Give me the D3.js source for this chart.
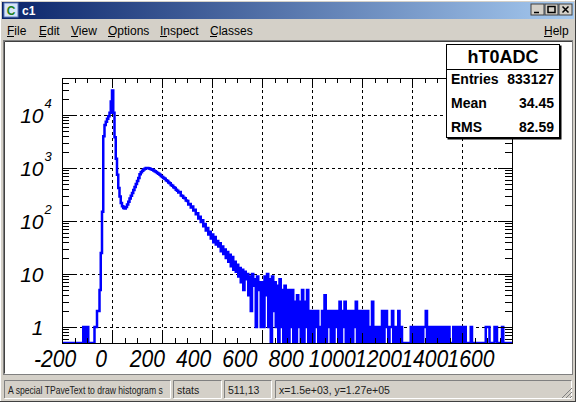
<!DOCTYPE html>
<html>
<head>
<meta charset="utf-8">
<script src="https://cdn.jsdelivr.net/npm/d3@7"></script>
<style>
  html, body { margin: 0; padding: 0; background: #d4d0c8; }
  svg { display: block; }
</style>
</head>
<body>
<div id="chart"></div>
<script>
const width = 576;
const height = 402;

// histogram hT0ADC, bins of 5 starting at -200 (one row = 100 units)
const binStart = -200;
const binWidth = 5;
const counts = [
  0, 0, 0, 0, 0, 0, 0, 0, 0, 0, 0, 0, 0, 0, 0, 0, 0, 1, 0, 0,
  1, 0, 0, 0, 0, 0, 1, 1, 2, 2, 5, 25, 150, 4000, 6500, 7500, 8500, 9500, 11000, 18000,
  29000, 11000, 3800, 1500, 750, 420, 290, 220, 190, 176, 172, 185, 205, 230, 265, 300, 340, 385, 440, 500,
  570, 650, 760, 830, 890, 940, 975, 1000, 1000, 990, 970, 950, 925, 900, 870, 840, 810, 780, 745, 710,
  680, 650, 625, 590, 570, 535, 515, 480, 465, 432, 418, 390, 372, 346, 352, 305, 298, 276, 268, 244,
  238, 206, 210, 180, 188, 158, 164, 134, 140, 112, 120, 96, 103, 80, 88, 66, 74, 56, 63, 47,
  56, 40, 50, 36, 42, 33, 38, 27, 33, 24, 29, 20, 26, 17, 23, 14, 21, 12, 17, 11,
  15, 9, 13, 7, 12, 5, 11, 8, 10, 4, 9, 2, 10, 6, 8, 1, 9, 5, 7, 1,
  7, 1, 9, 4, 10, 1, 8, 0, 9, 2, 7, 1, 6, 0, 8, 1, 5, 0, 6, 0,
  5, 0, 5, 1, 5, 0, 3, 0, 4, 1, 3, 0, 5, 0, 3, 1, 5, 0, 2, 0,
  2, 0, 2, 1, 2, 0, 1, 0, 2, 0, 4, 0, 2, 1, 2, 0, 2, 0, 2, 1,
  2, 0, 3, 0, 2, 1, 3, 0, 2, 0, 1, 2, 0, 2, 1, 3, 0, 1, 2, 0,
  1, 2, 0, 1, 2, 0, 1, 0, 3, 0, 1, 0, 1, 1, 0, 1, 2, 0, 1, 2,
  1, 0, 1, 1, 2, 0, 1, 0, 1, 2, 0, 1, 0, 0, 0, 0, 0, 0, 0, 1,
  1, 0, 1, 0, 1, 1, 0, 1, 0, 1, 1, 2, 0, 1, 1, 0, 1, 0, 1, 0,
  1, 1, 0, 1, 0, 1, 1, 0, 1, 1, 0, 0, 0, 1, 0, 1, 1, 0, 1, 0,
  1, 0, 1, 0, 0, 0, 0, 1, 0, 0, 0, 0, 0, 0, 0, 0, 0, 0, 0, 1,
  1, 1, 0, 0, 0, 0, 1, 1, 0, 0, 0, 0, 1, 0, 0, 0, 0, 0, 0, 0
];

const xMajorTicks = [-200, 0, 200, 400, 600, 800, 1000, 1200, 1400, 1600];
const xTickLabels = ["-200", "0", "200", "400", "600", "800", "1000", "1200", "1400", "1600"];
const yDecades = [1, 10, 100, 1000, 10000];
const yDecadeBase = ["1", "10", "10", "10", "10"];
const yDecadeExp = ["", "", "2", "3", "4"];

const histName = "hT0ADC";
const statsLabels = ["Entries", "Mean", "RMS"];
const statsValues = ["833127", "34.45", "82.59"];

const menuItems = ["File", "Edit", "View", "Options", "Inspect", "Classes"];
const menuX = [7, 39, 71, 108, 160, 210];
const statusTexts = ["A special TPaveText to draw histogram s", "stats", "511,13", "x=1.5e+03, y=1.27e+05"];
const statusPanels = [[4, 171], [173, 222], [224, 272], [275, 572]];
const statusScale = [0.82, 1, 1, 1];

const rootFont = "'Liberation Sans', Arial, sans-serif";
const guiFont = "'Liberation Sans', Arial, sans-serif";

const svg = d3.select("#chart")
  .append("svg")
  .attr("width", width)
  .attr("height", height);

const defs = svg.append("defs");
const grad = defs.append("linearGradient").attr("id", "titlegrad");
grad.append("stop").attr("offset", "0%").attr("stop-color", "#0a246a");
grad.append("stop").attr("offset", "100%").attr("stop-color", "#a6caf0");

// window background
svg.append("rect").attr("width", width).attr("height", height).attr("fill", "#d4d0c8");
svg.append("line").attr("x1", 0).attr("x2", width).attr("y1", 0.5).attr("y2", 0.5).attr("stroke", "#ffffff");
svg.append("line").attr("x1", 0.5).attr("x2", 0.5).attr("y1", 0).attr("y2", height).attr("stroke", "#ffffff");
svg.append("line").attr("x1", width - 0.5).attr("x2", width - 0.5).attr("y1", 0).attr("y2", height).attr("stroke", "#404040");
svg.append("line").attr("x1", 0).attr("x2", width).attr("y1", height - 0.5).attr("y2", height - 0.5).attr("stroke", "#404040");

// title bar
svg.append("rect").attr("x", 2).attr("y", 2).attr("width", width - 4).attr("height", 17).attr("fill", "url(#titlegrad)");
const icon = svg.append("g").attr("transform", "translate(4,3)");
icon.append("rect").attr("width", 14).attr("height", 14).attr("fill", "#d8e4f8").attr("stroke", "#6080c0");
icon.append("text").attr("x", 7).attr("y", 11.5).attr("text-anchor", "middle")
  .attr("font-family", guiFont).attr("font-weight", "bold").attr("font-size", 12)
  .attr("fill", "#208020").text("C");
svg.append("text").attr("x", 22).attr("y", 15).attr("font-family", guiFont)
  .attr("font-weight", "bold").attr("font-size", 12).attr("fill", "#ffffff").text("c1");

const btnX = [531, 545, 559];
const btns = svg.selectAll("g.btn").data(btnX).enter().append("g")
  .attr("class", "btn").attr("transform", d => `translate(${d},4)`);
btns.append("rect").attr("width", 13).attr("height", 11).attr("fill", "#d4d0c8")
  .attr("stroke", "#404040").attr("stroke-width", 1);
btns.append("path").attr("fill", "none").attr("stroke", "#000").attr("stroke-width", 1.5)
  .attr("d", (d, i) => i === 0 ? "M3,8.5H8" : i === 1 ? "M3,2.5H10V8.5H3Z" : "M3.5,2.5L9.5,8.5M9.5,2.5L3.5,8.5");

// menu bar
const menu = svg.selectAll("g.menu").data(menuItems).enter().append("g").attr("class", "menu");
menu.append("text").attr("x", (d, i) => menuX[i]).attr("y", 35)
  .attr("font-family", guiFont).attr("font-size", 12).attr("fill", "#000").text(d => d);
menu.append("line").attr("x1", (d, i) => menuX[i]).attr("x2", (d, i) => menuX[i] + 7)
  .attr("y1", 36.5).attr("y2", 36.5).attr("stroke", "#000");
svg.append("text").attr("x", 544).attr("y", 35).attr("font-family", guiFont)
  .attr("font-size", 12).text("Help");
svg.append("line").attr("x1", 544).attr("x2", 552).attr("y1", 36.5).attr("y2", 36.5).attr("stroke", "#000");

// canvas area (sunken)
svg.append("rect").attr("x", 3.5).attr("y", 40.5).attr("width", 569).attr("height", 334)
  .attr("fill", "#ffffff").attr("stroke", "#808080");
svg.append("path").attr("d", "M4.5,373.5V41.5H572").attr("fill", "none").attr("stroke", "#404040");

// plot frame
const frame = { left: 62, right: 512, top: 78, bottom: 343 };

const x = d3.scaleLinear().domain([-200, 1600]).range([frame.left, frame.right]);
const y = d3.scaleLog().domain([0.5, 50000]).range([frame.bottom, frame.top]);
// labels in the reference are laid out on a slightly narrower span than the ticks
const xLabel = d3.scaleLinear().domain([-200, 1600]).range([55, 471]);

defs.append("clipPath").attr("id", "frameclip").append("rect")
  .attr("x", frame.left).attr("y", frame.top)
  .attr("width", frame.right - frame.left).attr("height", frame.bottom - frame.top);

const plot = svg.append("g");

// grid
plot.selectAll("line.gx").data(xMajorTicks.filter(d => d > -200 && d < 1600)).enter()
  .append("line").attr("class", "gx")
  .attr("x1", d => Math.round(x(d)) + 0.5).attr("x2", d => Math.round(x(d)) + 0.5)
  .attr("y1", frame.top).attr("y2", frame.bottom)
  .attr("stroke", "#000").attr("stroke-dasharray", "3,3");
plot.selectAll("line.gy").data(yDecades).enter()
  .append("line").attr("class", "gy")
  .attr("x1", frame.left).attr("x2", frame.right)
  .attr("y1", d => Math.round(y(d)) + 0.5).attr("y2", d => Math.round(y(d)) + 0.5)
  .attr("stroke", "#000").attr("stroke-dasharray", "3,3");

// histogram outline
const pts = [[binStart, 0.5]];
counts.forEach((c, i) => {
  const v = Math.max(c, 0.5);
  pts.push([binStart + i * binWidth, v]);
  pts.push([binStart + (i + 1) * binWidth, v]);
});
pts.push([binStart + counts.length * binWidth, 0.5]);

const line = d3.line().x(d => x(d[0])).y(d => y(d[1]));
plot.append("path")
  .datum(pts)
  .attr("clip-path", "url(#frameclip)")
  .attr("d", line)
  .attr("fill", "none")
  .attr("stroke", "#0000ff")
  .attr("stroke-width", 2.5)
  .attr("stroke-linejoin", "miter");

// frame
plot.append("rect")
  .attr("x", frame.left + 0.5).attr("y", frame.top + 0.5)
  .attr("width", frame.right - frame.left).attr("height", frame.bottom - frame.top)
  .attr("fill", "none").attr("stroke", "#000");

// x ticks (bottom and top)
const xMinor = d3.range(-200, 1601, 50);
const xt = plot.append("g").attr("stroke", "#000");
xMinor.forEach(v => {
  const major = v % 200 === 0;
  const px = Math.round(x(v)) + 0.5;
  const len = major ? 10 : 5;
  xt.append("line").attr("x1", px).attr("x2", px).attr("y1", frame.bottom).attr("y2", frame.bottom - len);
  xt.append("line").attr("x1", px).attr("x2", px).attr("y1", frame.top).attr("y2", frame.top + len);
});

// y ticks (left and right)
const yMinor = [];
[-1, 0, 1, 2, 3, 4].forEach(n => {
  d3.range(1, 10).forEach(k => {
    const v = k * Math.pow(10, n);
    if (v >= 0.5 && v <= 50000) yMinor.push({ v: v, major: k === 1 });
  });
});
const yt = plot.append("g").attr("stroke", "#000");
yMinor.forEach(t => {
  const py = Math.round(y(t.v)) + 0.5;
  const len = t.major ? 14 : 7;
  yt.append("line").attr("x1", frame.left).attr("x2", frame.left + len).attr("y1", py).attr("y2", py);
  yt.append("line").attr("x1", frame.right).attr("x2", frame.right - len).attr("y1", py).attr("y2", py);
});

// x labels (slightly condensed glyphs like the reference)
plot.selectAll("text.xl").data(xMajorTicks).enter()
  .append("text").attr("class", "xl")
  .attr("transform", d => `translate(${xLabel(d)},367) scale(0.88,1)`)
  .attr("text-anchor", "middle")
  .attr("font-family", rootFont).attr("font-style", "italic").attr("font-size", 24)
  .text((d, i) => xTickLabels[i]);

// y labels
const yl = plot.selectAll("g.yl").data(yDecades).enter().append("g").attr("class", "yl");
yl.append("text")
  .attr("x", 43.5).attr("y", d => y(d) + 8)
  .attr("text-anchor", "end")
  .attr("font-family", rootFont).attr("font-style", "italic").attr("font-size", 21)
  .text((d, i) => yDecadeBase[i]);
yl.append("text")
  .attr("x", 44.5).attr("y", d => y(d) - 7)
  .attr("font-family", rootFont).attr("font-style", "italic").attr("font-size", 13)
  .text((d, i) => yDecadeExp[i]);

// stats box
const stats = svg.append("g").attr("transform", "translate(446,44)");
stats.append("rect").attr("x", 1.5).attr("y", 1.5).attr("width", 114).attr("height", 94).attr("fill", "#000");
stats.append("rect").attr("x", 0.5).attr("y", 0.5).attr("width", 113).attr("height", 93)
  .attr("fill", "#fff").attr("stroke", "#000");
stats.append("line").attr("x1", 0).attr("x2", 114).attr("y1", 25.5).attr("y2", 25.5).attr("stroke", "#000");
stats.append("text").attr("x", 57).attr("y", 19).attr("text-anchor", "middle")
  .attr("font-family", rootFont).attr("font-weight", "bold").attr("font-size", 18).text(histName);
stats.selectAll("text.sl").data(statsLabels).enter().append("text").attr("class", "sl")
  .attr("x", 5).attr("y", (d, i) => 39.5 + i * 24)
  .attr("font-family", rootFont).attr("font-weight", "bold").attr("font-size", 14).text(d => d);
stats.selectAll("text.sv").data(statsValues).enter().append("text").attr("class", "sv")
  .attr("x", 108).attr("y", (d, i) => 39.5 + i * 24).attr("text-anchor", "end")
  .attr("font-family", rootFont).attr("font-weight", "bold").attr("font-size", 14).text(d => d);

// status bar
const sb = svg.selectAll("g.status").data(statusPanels).enter().append("g").attr("class", "status");
sb.append("path").attr("fill", "none").attr("stroke", "#808080")
  .attr("d", d => `M${d[0] + 0.5},398V380.5H${d[1]}`);
sb.append("path").attr("fill", "none").attr("stroke", "#ffffff")
  .attr("d", d => `M${d[0] + 0.5},398.5H${d[1] - 0.5}V380.5`);
sb.append("text")
  .attr("transform", (d, i) => `translate(${d[0] + 4},393.5) scale(${statusScale[i]},1)`)
  .attr("font-family", guiFont).attr("font-size", 10.5)
  .attr("fill", "#202020")
  .text((d, i) => statusTexts[i]);
// resize grip
svg.append("path").attr("fill", "none").attr("stroke", "#808080")
  .attr("d", "M562,398L572,388M566,398L572,392M570,398L572,396");
</script>
</body>
</html>
